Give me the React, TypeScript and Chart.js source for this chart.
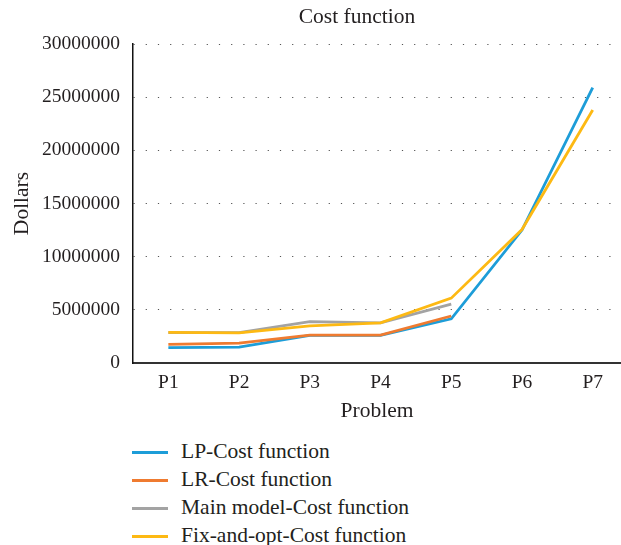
import React, { useEffect, useRef } from "react";
import { Chart, registerables } from "chart.js";

Chart.register(...registerables);

const categories = ["P1", "P2", "P3", "P4", "P5", "P6", "P7"];
const lpCost = [1450000, 1500000, 2600000, 2600000, 4150000, 12500000, 25900000];
const lrCost = [1760000, 1860000, 2620000, 2620000, 4420000, null, null];
const mainCost = [2860000, 2860000, 3900000, 3780000, 5530000, null, null];
const fixCost = [2880000, 2840000, 3500000, 3780000, 6100000, 12550000, 23800000];
const yTicks = [0, 5000000, 10000000, 15000000, 20000000, 25000000, 30000000];

const chartTitle = "Cost function";
const seriesNames = ["LP-Cost function", "LR-Cost function", "Main model-Cost function", "Fix-and-opt-Cost function"];
const seriesColors = ["#1d9dd8", "#ef7b30", "#a3a3a3", "#fdb913"];
const seriesValues = [lpCost, lrCost, mainCost, fixCost];

const FONT = "'Liberation Serif', 'Times New Roman', serif";
const TEXT = "#231f20";
const TICK_SIZE = 19.5;
const TITLE_SIZE = 21.5;

export default function App() {
  const ref = useRef<HTMLCanvasElement | null>(null);
  useEffect(() => {
    if (!ref.current) return;
    const chart = new Chart(ref.current, {
      type: "line",
      data: {
        datasets: seriesValues.map((vals, si) => ({
          label: seriesNames[si],
          data: vals.map((v, i) => ({ x: i + 1, y: v })),
          borderColor: seriesColors[si],
          backgroundColor: seriesColors[si],
          borderWidth: 2.8,
          pointRadius: 0,
          tension: 0,
          spanGaps: false,
          order: 4 - si,
        })),
      },
      options: {
        animation: false,
        responsive: false,
        maintainAspectRatio: false,
        layout: { padding: { left: 9.6, right: 0, top: 44, bottom: 0 } },
        plugins: {
          legend: { display: false },
          tooltip: { enabled: false },
          title: { display: false },
        },
        scales: {
          x: {
            type: "linear",
            min: 0.5,
            max: 7.4,
            afterBuildTicks: (scale: any) => {
              scale.ticks = categories.map((_, i) => ({ value: i + 1 }));
            },
            ticks: {
              color: TEXT,
              font: { family: FONT, size: TICK_SIZE },
              padding: 8.5,
              callback: (v: any) => categories[Math.round(v) - 1] ?? "",
              autoSkip: false,
              maxRotation: 0,
            },
            grid: { display: false, drawTicks: false },
            border: { display: true, color: "#333", width: 2 },
            title: {
              display: true,
              text: "Problem",
              color: TEXT,
              font: { family: FONT, size: TITLE_SIZE },
              padding: { top: -5.2, bottom: 0 },
            },
          },
          y: {
            min: 0,
            max: 30000000,
            afterBuildTicks: (scale: any) => {
              scale.ticks = yTicks.map((v) => ({ value: v }));
            },
            ticks: {
              color: TEXT,
              font: { family: FONT, size: TICK_SIZE },
              padding: 13,
              callback: (v: any) => String(v),
            },
            grid: {
              drawTicks: false,
              color: (ctx: any) => (ctx.tick && ctx.tick.value === 0 ? "rgba(0,0,0,0)" : "#555"),
              lineWidth: 1,
            },
            border: { display: true, color: "#111", width: 1.5, dash: [1.2, 11] },
            title: {
              display: true,
              text: "Dollars",
              color: TEXT,
              font: { family: FONT, size: TITLE_SIZE },
              padding: { top: 0, bottom: -6.4 },
            },
          },
        },
      },
    });
    return () => chart.destroy();
  }, []);

  return (
    <div style={{ position: "absolute", left: 0, top: 0, width: 621, height: 545, background: "#fff", overflow: "hidden" }}>
      <canvas ref={ref} width={621} height={424} style={{ display: "block", width: 621, height: 424 }} />
      <div style={{ position: "absolute", left: 0, top: 3, width: 714, textAlign: "center", fontFamily: FONT, fontSize: TITLE_SIZE, color: TEXT, lineHeight: "26px", whiteSpace: "nowrap" }}>
        {chartTitle}
      </div>
      <div style={{ position: "absolute", left: 0, top: 437 }}>
        {seriesNames.map((name, i) => (
          <div key={name} style={{ position: "relative", height: 28, width: 450 }}>
            <div style={{ position: "absolute", left: 132, top: 14, width: 36, height: 3, background: seriesColors[i] }} />
            <div style={{ position: "absolute", left: 181, top: 0, fontFamily: FONT, fontSize: TITLE_SIZE, color: TEXT, lineHeight: "28px", whiteSpace: "nowrap" }}>
              {name}
            </div>
          </div>
        ))}
      </div>
    </div>
  );
}
